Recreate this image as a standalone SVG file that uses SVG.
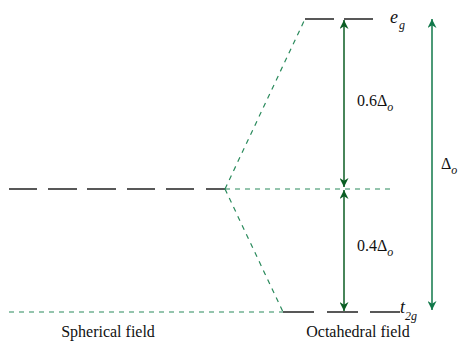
<svg xmlns="http://www.w3.org/2000/svg" width="458" height="343" viewBox="0 0 458 343">
<style>
.lvl{stroke:#222;stroke-width:1.6;fill:none}
.dash{stroke:#2a8a5c;stroke-width:1.2;stroke-dasharray:5,5;fill:none}
.arr{stroke:#0b5e23;stroke-width:1.5;fill:none}
.arr2{stroke:#11784a;stroke-width:1.5;fill:none}
text{font-family:"Liberation Serif","Times New Roman",serif;fill:#111;font-size:16px}
.it{font-style:italic}
.sub{font-size:12px;font-style:italic}
</style>
<defs>
<marker id="ah" viewBox="0 0 10 10" refX="10" refY="5" markerWidth="10" markerHeight="9" markerUnits="userSpaceOnUse" orient="auto-start-reverse">
<path d="M0,0 L10,5 L0,10 L3,5 Z" fill="#0b5e23"/>
</marker>
<marker id="ah2" viewBox="0 0 10 10" refX="10" refY="5" markerWidth="10" markerHeight="9" markerUnits="userSpaceOnUse" orient="auto-start-reverse">
<path d="M0,0 L10,5 L0,10 L3,5 Z" fill="#11784a"/>
</marker>
</defs>
<g id="spherical">
<path class="lvl" d="M9,189H37M48,189H77M87,189H116M127,189H155M166,189H194M206,189H225"/>
</g>
<g id="eg">
<path class="lvl" d="M305,19H334M344,19H373"/>
<text x="390" y="23" class="it" style="font-size:18px">e</text>
<text x="399" y="29" class="sub">g</text>
</g>
<g id="t2g">
<path class="lvl" d="M283,312H314M327,312H358M370,312H400"/>
<text x="400" y="313" class="it" style="font-size:18px">t</text>
<text x="405" y="320" class="sub">2g</text>
</g>
<g id="connectors">
<path class="dash" d="M225,189L305,19"/>
<path class="dash" d="M225,189L283,312"/>
<path class="dash" d="M225,189H392"/>
<path class="dash" d="M9,312H283"/>
<path class="arr" d="M344,20V187" marker-start="url(#ah)" marker-end="url(#ah)"/>
<path class="arr" d="M344,190V311" marker-start="url(#ah)" marker-end="url(#ah)"/>
<path class="arr2" d="M432,19V310" marker-start="url(#ah2)" marker-end="url(#ah2)"/>
</g>
<g id="labels">
<text x="357" y="106">0.6Δ<tspan class="sub" dy="5">o</tspan></text>
<text x="357" y="251">0.4Δ<tspan class="sub" dy="5">o</tspan></text>
<text x="441" y="169">Δ<tspan class="sub" dy="5">o</tspan></text>
<text x="108" y="337" text-anchor="middle">Spherical field</text>
<text x="358" y="337" text-anchor="middle">Octahedral field</text>
</g>
</svg>
